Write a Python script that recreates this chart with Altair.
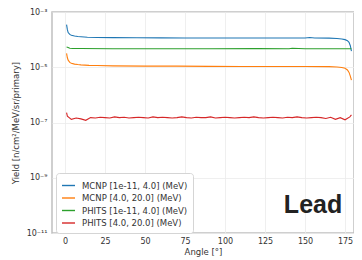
import altair as alt
import pandas as pd

SERIES = ["MCNP [1e-11, 4.0] (MeV)", "MCNP [4.0, 20.0] (MeV)",
          "PHITS [1e-11, 4.0] (MeV)", "PHITS [4.0, 20.0] (MeV)"]
COLORS = ["#1f77b4", "#ff7f0e", "#2ca02c", "#d62728"]

mcnp_low_angle = [1, 1.5, 2, 3, 4, 6, 8, 10, 14, 20, 30, 45, 60, 75, 90, 105, 120,
                  135, 150, 153, 156, 165, 170, 173, 175, 176.5, 177.5, 178.3, 179]
mcnp_low_yield = [3.5e-4, 2.3e-4, 1.8e-4, 1.55e-4, 1.45e-4, 1.35e-4, 1.3e-4, 1.27e-4,
                  1.22e-4, 1.2e-4, 1.18e-4, 1.17e-4, 1.16e-4, 1.15e-4, 1.15e-4, 1.15e-4,
                  1.15e-4, 1.15e-4, 1.15e-4, 1.2e-4, 1.15e-4, 1.13e-4, 1.1e-4, 1.06e-4,
                  1.0e-4, 9.2e-5, 8.0e-5, 6.0e-5, 3.8e-5]

mcnp_high_angle = [1, 1.5, 2, 3, 4, 6, 8, 10, 15, 20, 30, 50, 70, 90, 110, 130, 150,
                   165, 170, 173, 175, 176.5, 177.5, 178.3, 179]
mcnp_high_yield = [3.2e-5, 2.2e-5, 1.8e-5, 1.5e-5, 1.4e-5, 1.3e-5, 1.25e-5, 1.22e-5,
                   1.17e-5, 1.15e-5, 1.12e-5, 1.1e-5, 1.1e-5, 1.08e-5, 1.07e-5, 1.07e-5,
                   1.07e-5, 1.05e-5, 1.02e-5, 9.8e-6, 9.2e-6, 8.0e-6, 6.5e-6, 4.8e-6, 3.4e-6]

phits_low_angle = [1, 2, 3, 5, 10, 30, 60, 90, 120, 140, 142, 150, 170, 179]
phits_low_yield = [5.4e-5, 5.2e-5, 4.9e-5, 4.8e-5, 4.75e-5, 4.7e-5, 4.7e-5, 4.7e-5,
                   4.72e-5, 4.7e-5, 4.85e-5, 4.7e-5, 4.7e-5, 4.7e-5]

phits_high_angle = [1, 1.5, 4, 7, 10, 13, 16, 19, 22, 25, 28, 31, 34, 37, 40, 43, 46, 49,
                    52, 55, 58, 61, 64, 67, 70, 73, 76, 79, 82, 85, 88, 91, 94, 97, 100,
                    103, 106, 109, 112, 115, 118, 121, 124, 127, 130, 133, 136, 139, 142,
                    145, 148, 151, 154, 157, 160, 163, 166, 169, 172, 175, 178, 179]
phits_high_yield = [2.3e-7, 1.7e-7, 1.3e-7, 1.45e-7, 1.35e-7, 1.2e-7, 1.5e-7, 1.45e-7,
                    1.55e-7, 1.5e-7, 1.45e-7, 1.6e-7, 1.5e-7, 1.55e-7, 1.45e-7, 1.5e-7,
                    1.55e-7, 1.5e-7, 1.45e-7, 1.6e-7, 1.5e-7, 1.55e-7, 1.5e-7, 1.45e-7,
                    1.5e-7, 1.6e-7, 1.5e-7, 1.45e-7, 1.55e-7, 1.5e-7, 1.5e-7, 1.6e-7,
                    1.45e-7, 1.5e-7, 1.55e-7, 1.5e-7, 1.45e-7, 1.5e-7, 1.55e-7, 1.5e-7,
                    1.6e-7, 1.5e-7, 1.45e-7, 1.5e-7, 1.55e-7, 1.5e-7, 1.45e-7, 1.55e-7,
                    1.5e-7, 1.6e-7, 1.5e-7, 1.45e-7, 1.5e-7, 1.55e-7, 1.5e-7, 1.4e-7,
                    1.55e-7, 1.3e-7, 1.5e-7, 1.25e-7, 1.6e-7, 1.9e-7]

x_ticks = [0, 25, 50, 75, 100, 125, 150, 175]
y_ticks = [1e-11, 1e-9, 1e-7, 1e-5, 1e-3]

label_text = ["Lead"]
label_angle = [155]
label_yield = [1e-10]

rows = []
for name, ang, val in [(SERIES[0], mcnp_low_angle, mcnp_low_yield),
                       (SERIES[1], mcnp_high_angle, mcnp_high_yield),
                       (SERIES[2], phits_low_angle, phits_low_yield),
                       (SERIES[3], phits_high_angle, phits_high_yield)]:
    for i, (a, v) in enumerate(zip(ang, val)):
        rows.append({"series": name, "angle": a, "yield": v, "order": i})
df = pd.DataFrame(rows)

y_label_expr = ("datum.value > 5e-4 ? '10⁻³' : datum.value > 5e-6 ? '10⁻⁵' : "
                "datum.value > 5e-8 ? '10⁻⁷' : datum.value > 5e-10 ? '10⁻⁹' : '10⁻¹¹'")

xscale = alt.Scale(domain=[-8.1, 180.6], nice=False, zero=False)
yscale = alt.Scale(type="log", domain=[1e-11, 1e-3], nice=False)

lines = alt.Chart(df).mark_line(strokeWidth=1.1).encode(
    x=alt.X("angle:Q", scale=xscale,
            axis=alt.Axis(values=x_ticks, title="Angle [°]", format="d",
                          labelPadding=4, titlePadding=2)),
    y=alt.Y("yield:Q", scale=yscale,
            axis=alt.Axis(values=y_ticks, labelExpr=y_label_expr,
                          title="Yield [n/cm²/MeV/sr/primary]",
                          labelPadding=5, titlePadding=6)),
    color=alt.Color("series:N", scale=alt.Scale(domain=SERIES, range=COLORS),
                    legend=alt.Legend(title=None, orient="none", legendX=4, legendY=161,
                                      symbolType="stroke", symbolSize=170,
                                      symbolStrokeWidth=1.4, labelFontSize=8.5,
                                      labelLimit=300, rowPadding=0.5, padding=5,
                                      labelOffset=6,
                                      fillColor="white", strokeColor="#d5d5d5",
                                      cornerRadius=3, labelColor="#333333")),
    detail="series:N",
    order="order:Q",
)

ldf = pd.DataFrame({"text": label_text, "angle": label_angle, "yield": label_yield})
text = alt.Chart(ldf).mark_text(font="Liberation Sans", fontWeight="bold", fontSize=25,
                                 color="#222222", baseline="middle", align="center").encode(
    x=alt.X("angle:Q", scale=xscale),
    y=alt.Y("yield:Q", scale=yscale),
    text="text:N",
)

chart = alt.layer(lines, text).properties(
    width=302, height=221,
    autosize=alt.AutoSizeParams(type="none"),
    padding={"left": 44, "top": 4, "right": 0, "bottom": 27},
).configure_view(stroke="#c0c0c0", strokeWidth=1.5).configure_axis(
    domain=False, ticks=False, grid=True, gridColor="#ebebeb", gridWidth=0.8,
    labelFont="DejaVu Sans", labelFontSize=8, labelColor="#333333",
    titleFont="DejaVu Sans", titleFontSize=8.5, titleFontWeight="normal",
    titleColor="#333333",
).configure_legend(labelFont="DejaVu Sans")

chart.save("out.html", embed_options={"renderer": "svg", "actions": False})
